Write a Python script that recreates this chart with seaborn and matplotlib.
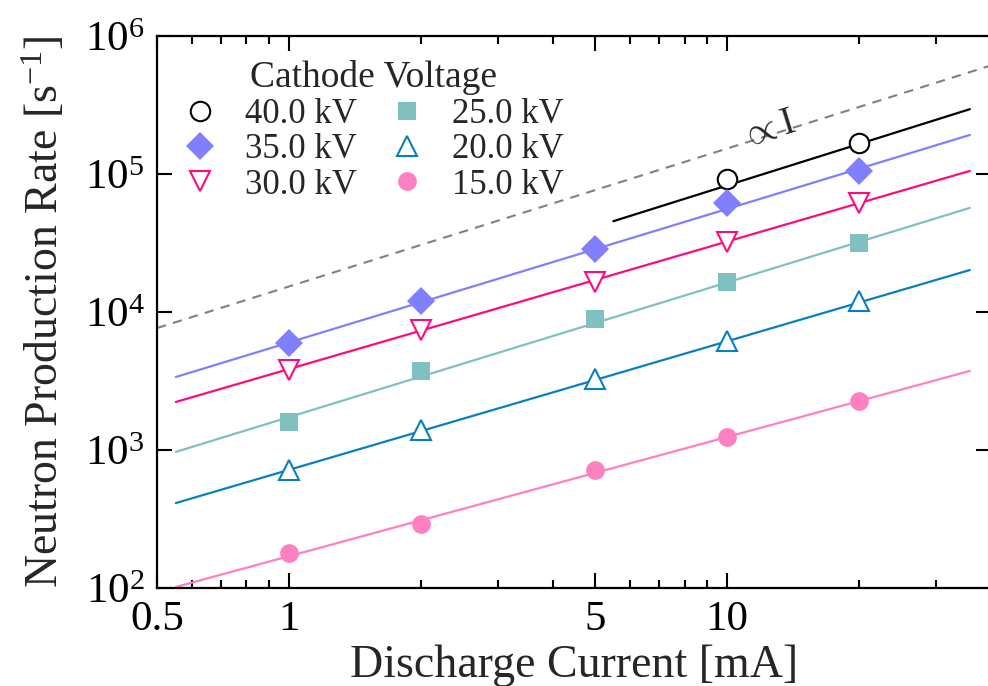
import numpy as np
import pandas as pd
import matplotlib
matplotlib.use("Agg")
import matplotlib.pyplot as plt
from matplotlib.ticker import FixedLocator, NullLocator, FixedFormatter, LogFormatterMathtext
from matplotlib.lines import Line2D
import seaborn as sns

# ---------------- data ----------------
voltages = ["40.0 kV", "35.0 kV", "30.0 kV", "25.0 kV", "20.0 kV", "15.0 kV"]
current_40 = [10, 20]
rate_40 = [91600, 167000]
current_all = [1, 2, 5, 10, 20]
rate_35 = [6000, 12100, 28400, 61400, 104700]
rate_30 = [3830, 7460, 16600, 32000, 61400]
rate_25 = [1600, 3760, 8830, 16400, 31400]
rate_20 = [719, 1400, 3290, 6210, 12100]
rate_15 = [180, 292, 719, 1250, 2280]

# power-law fit parameters  rate = A * I**b
fit_A = [8300, 6010, 3860, 1730, 718, 170]
fit_b = [0.998, 0.968, 0.924, 0.976, 0.932, 0.864]
fit_start = [5.5, 0.552, 0.552, 0.552, 0.552, 0.552]
fit_end = [35.8, 35.8, 35.8, 35.8, 35.8, 35.8]

# guide line  rate = C * I
guide_C = 15300
guide_range = [0.5, 40]

colors = ["#000000", "#8080FF", "#FF0A7F", "#80C0C0", "#0A7FC0", "#FF80C0"]
markers = ["o", "D", "v", "s", "^", "o"]
filled = [False, True, False, True, False, True]
msizes = [14, 14, 14, 13, 14, 13.5]

series_x = [current_40] + [current_all] * 5
series_y = [rate_40, rate_35, rate_30, rate_25, rate_20, rate_15]

# ---------------- style ----------------
sns.set_style("ticks")
plt.rcParams["font.family"] = ["Liberation Serif", "DejaVu Serif"]
plt.rcParams["mathtext.fontset"] = "custom"
plt.rcParams["mathtext.rm"] = "Liberation Serif"
plt.rcParams["mathtext.it"] = "Liberation Serif:italic"
plt.rcParams["mathtext.bf"] = "Liberation Serif:bold"

fig = plt.figure(figsize=(9.88, 6.86), dpi=100)
W, H = 988, 686
L, R, T, B = 157, 991, 36, 588
ax = fig.add_axes([L / W, 1 - B / H, (R - L) / W, (B - T) / H])
ax.set_xscale("log")
ax.set_yscale("log")

# guide line
gx = np.geomspace(guide_range[0], guide_range[1], 60)
gdf = pd.DataFrame({"x": gx, "y": guide_C * gx})
sns.lineplot(data=gdf, x="x", y="y", ax=ax, color="#808080", linestyle=(0, (4.5, 3.5)),
             linewidth=1.5, errorbar=None, zorder=1)

# fit lines
for i in range(len(voltages)):
    fx = np.geomspace(fit_start[i], fit_end[i], 60)
    fdf = pd.DataFrame({"x": fx, "y": fit_A[i] * fx ** fit_b[i]})
    sns.lineplot(data=fdf, x="x", y="y", ax=ax, color=colors[i], linewidth=1.6,
                 errorbar=None, zorder=2)

# data markers
handles = []
for i in range(len(voltages)):
    ddf = pd.DataFrame({"x": series_x[i], "y": series_y[i]})
    fc = colors[i] if filled[i] else "white"
    mew = 0 if filled[i] else 1.5
    sns.lineplot(data=ddf, x="x", y="y", ax=ax, linestyle="", marker=markers[i],
                 markersize=msizes[i], markerfacecolor=fc, markeredgecolor=colors[i],
                 markeredgewidth=mew, color=colors[i], errorbar=None, zorder=3)
    handles.append(Line2D([], [], linestyle="", marker=markers[i], markersize=msizes[i],
                          markerfacecolor=fc, markeredgecolor=colors[i], markeredgewidth=mew))

ax.text(12.4, 2.1e5, r"$\propto$I", fontsize=28, rotation=17.2, ha="center", va="center",
        rotation_mode="anchor")

ax.set_xlim(0.5, 40)
ax.set_ylim(1e2, 1e6)

ax.xaxis.set_major_locator(FixedLocator([0.5, 1, 5, 10]))
ax.xaxis.set_major_formatter(FixedFormatter(["0.5", "1", "5", "10"]))
ax.xaxis.set_minor_locator(FixedLocator([0.6, 0.7, 0.8, 0.9, 2, 3, 4, 6, 7, 8, 9, 20, 30]))
ax.xaxis.set_minor_formatter(FixedFormatter([]))
ax.yaxis.set_major_locator(FixedLocator([1e2, 1e3, 1e4, 1e5, 1e6]))
ax.yaxis.set_major_formatter(LogFormatterMathtext())
ax.yaxis.set_minor_locator(NullLocator())

ax.tick_params(which="both", direction="in", top=True, right=True, width=1.5, colors="black")
ax.tick_params(which="major", length=11, labelsize=31, pad=9)
ax.tick_params(which="minor", length=6)
for sp in ax.spines.values():
    sp.set_linewidth(1.6)
    sp.set_color("black")

ax.set_xlabel("Discharge Current [mA]", fontsize=33, labelpad=4)
ax.set_ylabel(r"Neutron Production Rate [s$^{\mathdefault{-1}}$]", fontsize=33, labelpad=12)

leg = ax.legend(handles, voltages, title="Cathode Voltage", ncol=2, frameon=False,
                loc="upper left", bbox_to_anchor=(158 / W, 1 - 36 / H),
                bbox_transform=fig.transFigure, fontsize=25, title_fontsize=27,
                handlelength=1.0, handletextpad=0.8, columnspacing=0.95,
                labelspacing=0.07, borderpad=0.2)

fig.savefig("out.png", dpi=100)
